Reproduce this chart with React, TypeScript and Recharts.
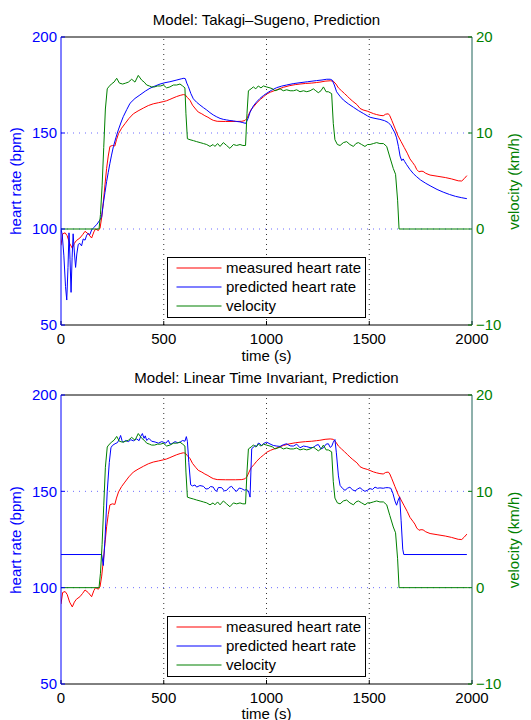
import React from 'react';
import { LineChart, Line, XAxis, YAxis, ReferenceLine, Legend } from 'recharts';

const FONT = '"Liberation Sans", Arial, Helvetica, sans-serif';

const timeTicks = [0, 500, 1000, 1500, 2000];
const hrTicks = [50, 100, 150, 200];
const velTicks = [-10, 0, 10, 20];
const timeGrid = [500, 1000, 1500];
const hrGrid = [100, 150];

const seriesNames = ['measured heart rate', 'predicted heart rate', 'velocity'];
const panelTitles = ['Model: Takagi\u2013Sugeno, Prediction', 'Model: Linear Time Invariant, Prediction'];

// [time (s), velocity (km/h)]
const velocity: [number, number][] = [
  [0,0],[185,0],[192,1.5],[200,4.5],[208,8.5],[216,12.5],[225,14.6],[232,14.8],[245,15.1],[258,15.3],[271,15.7],[284,15.2],[300,15.1],[315,15.2],[328,15.3],[344,15.6],[360,15.3],[376,16.0],[393,15.5],[405,15.3],[417,15.0],[430,14.9],[441,14.8],[455,14.8],[470,14.9],[485,14.9],[498,15.0],[514,14.7],[530,14.8],[547,15.0],[563,15.0],[579,15.1],[592,14.9],[603,14.7],[608,12.0],[615,9.4],[628,9.3],[645,9.2],[660,9.1],[677,9.0],[693,8.9],[709,8.8],[725,8.6],[740,8.8],[749,8.6],[762,8.9],[774,8.6],[790,9.0],[806,8.7],[822,8.4],[839,8.8],[855,8.7],[871,8.8],[885,8.7],[898,8.7],[905,12.0],[912,14.4],[925,14.6],[936,14.8],[948,14.6],[960,14.9],[973,14.7],[985,14.9],[1000,14.8],[1017,14.7],[1030,14.6],[1041,14.4],[1055,14.5],[1066,14.6],[1082,14.4],[1098,14.5],[1115,14.4],[1131,14.4],[1147,14.5],[1163,14.3],[1180,14.4],[1196,14.3],[1212,14.4],[1228,14.6],[1240,14.4],[1252,14.2],[1265,14.4],[1277,14.8],[1290,14.3],[1301,14.3],[1317,14.1],[1325,11.0],[1333,9.3],[1345,8.8],[1358,8.7],[1374,9.0],[1390,9.1],[1406,8.8],[1423,8.6],[1435,8.9],[1447,9.0],[1463,8.8],[1479,8.6],[1492,8.8],[1504,8.8],[1520,8.9],[1536,9.0],[1552,8.9],[1569,8.9],[1585,8.6],[1600,7.5],[1617,6.3],[1628,5.7],[1638,3.0],[1645,0],[1980,0]
];

// [time (s), measured heart rate (bpm)]
const measured: [number, number][] = [
  [0,91.5],[8,97.5],[20,98],[30,96.5],[42,92.5],[55,90],[65,92.5],[75,94],[92,95.3],[105,97],[117,98.8],[133,97.4],[149,95.3],[160,98.5],[168,100],[182,99.2],[190,100.5],[198,106],[206,114],[214,123],[222,131.6],[230,138],[238,143],[250,143.5],[262,143.2],[270,146.5],[280,149.7],[295,152.5],[311,154.8],[330,157.5],[352,160],[375,161.5],[401,163],[425,164.3],[449,165.2],[475,165.8],[500,166.4],[514,166.8],[530,167.5],[545,168.2],[563,169],[580,169.6],[595,170],[605,169.8],[615,168.5],[628,167],[640,164.5],[655,162.5],[668,160.9],[685,160],[700,159],[715,158.2],[730,157.2],[741,156.6],[760,156.1],[800,156],[850,156],[880,156.1],[895,156.5],[905,157.6],[915,160],[925,162.2],[940,164],[952,165.6],[970,167.5],[985,168.8],[1001,170.3],[1020,171.3],[1049,172.5],[1082,173.8],[1110,174.6],[1140,175.2],[1163,175.5],[1190,175.8],[1220,176],[1244,176.3],[1260,176.5],[1285,177],[1310,177.2],[1325,177],[1338,175.5],[1350,173.5],[1365,172],[1380,170.5],[1395,169],[1406,167.8],[1420,166.5],[1440,164.8],[1455,162.8],[1470,162],[1490,161.4],[1504,160.8],[1520,160.1],[1536,159.6],[1552,159.2],[1568,159],[1580,159.8],[1593,160],[1600,159],[1610,156.5],[1625,152.5],[1640,148.5],[1655,145.5],[1670,142.5],[1685,139.5],[1698,136.5],[1712,134.5],[1722,133],[1731,131],[1742,129.8],[1752,130.1],[1762,130],[1775,129],[1796,128.1],[1830,127.5],[1870,126.8],[1900,126.1],[1933,125.1],[1950,125],[1962,126.2],[1975,127.8]
];

// [time (s), Takagi-Sugeno predicted heart rate (bpm)]
const predictedTS: [number, number][] = [
  [0,100],[6,97],[14,86],[22,70],[28,63],[34,80],[39,98],[44,84],[49,67],[54,85],[59,97.5],[65,88],[71,80],[77,87],[84,92],[92,92.5],[100,91.2],[108,94.8],[117,94.2],[125,96.8],[133,97.8],[140,97],[149,99.5],[160,100.8],[175,102.5],[190,104.8],[198,106.5],[206,113.4],[214,119],[222,124.7],[230,129.5],[238,134.2],[246,138.5],[255,142.9],[267,147.5],[279,151.6],[291,155.2],[303,158.5],[320,162.2],[336,165.5],[360,168],[384,169.8],[410,171.8],[433,173.3],[458,174.5],[482,175.5],[506,176.2],[530,176.7],[560,177.5],[585,178.2],[598,178.5],[605,178.3],[612,176],[620,174.1],[632,170.5],[644,167.8],[660,166],[676,164.6],[693,163.2],[709,162],[725,160.6],[741,159.4],[758,158.4],[774,157.6],[790,157.1],[806,156.8],[822,156.5],[839,156.3],[855,156],[871,155.8],[885,155.4],[899,155],[910,157.5],[920,160.8],[936,164.1],[952,166.2],[968,168],[985,169.5],[1001,170.7],[1025,172.3],[1049,173.6],[1073,174.4],[1098,175],[1130,175.7],[1163,176.2],[1200,176.7],[1244,177.3],[1270,177.6],[1293,178],[1310,178],[1320,177.5],[1330,175],[1341,171.5],[1357,169.2],[1374,167.2],[1398,165.2],[1423,163.4],[1447,161.7],[1471,160.2],[1490,159],[1504,158.2],[1528,157.6],[1552,157.1],[1575,156.4],[1593,155.4],[1605,154],[1617,151.6],[1625,150],[1633,147.5],[1642,143],[1650,138],[1658,135.6],[1665,136.5],[1672,135.2],[1682,133.5],[1698,131],[1715,128.8],[1731,127.2],[1750,125.5],[1775,123.8],[1800,122.3],[1830,120.6],[1860,119.2],[1890,118],[1920,117],[1950,116.3],[1975,115.8]
];

// [time (s), LTI predicted heart rate (bpm)]
const predictedLTI: [number, number][] = [
  [0,117.2],[198,117.2],[206,111.5],[214,125],[225,150],[235,165],[243,172.6],[250,173.8],[263,174.7],[275,175.3],[283,177],[290,179],[297,176.3],[303,175.5],[315,176.4],[328,175.8],[340,176.8],[352,176.2],[368,177.2],[380,176.3],[388,178.5],[396,180],[404,177.5],[410,178.8],[417,176.4],[428,177.5],[441,176],[458,175.6],[474,175],[490,175.8],[498,175.5],[510,175],[522,176.5],[530,174.6],[539,174.7],[555,175.8],[568,175.2],[579,175.5],[592,176.4],[603,176],[610,178.4],[615,176],[622,165],[631,153.4],[640,152.8],[652,153.3],[660,152.2],[676,153],[693,152.6],[705,151.2],[717,151.4],[728,152.5],[741,152.2],[750,150.5],[757,150],[766,152],[782,151.9],[795,150.2],[806,150.5],[818,152],[830,152.6],[842,151],[855,150],[867,151.7],[879,151.4],[892,150.6],[903,150.9],[912,150.2],[920,147],[924,160],[928,172],[936,173],[944,173.8],[952,173.2],[960,175],[968,174.7],[977,173.6],[985,174.8],[1001,175.5],[1017,174.6],[1033,173.8],[1050,173.5],[1066,173.3],[1082,174.2],[1098,174.7],[1115,173.6],[1131,173.5],[1147,174.5],[1163,172.6],[1180,173.5],[1196,173.2],[1212,172.7],[1228,172.7],[1240,173.8],[1252,174.3],[1265,172],[1277,172.6],[1290,174.5],[1301,174.7],[1310,172.8],[1317,173.3],[1325,175.5],[1333,176.9],[1340,170],[1350,158],[1358,153.1],[1370,151.5],[1382,150.5],[1394,151.6],[1406,152.2],[1418,150.8],[1431,150.2],[1443,151.2],[1455,151.9],[1467,150.8],[1479,150],[1492,150.6],[1504,151.4],[1516,151],[1528,152.2],[1540,151.6],[1552,151.8],[1568,151.6],[1580,151.9],[1593,151.9],[1605,151.6],[1615,149],[1625,145],[1633,142.8],[1641,145.5],[1648,147.1],[1655,135],[1663,120],[1668,117.2],[1975,117.2]
];

const toRows = (pairs: [number, number][]) => pairs.map(([t, v]) => ({ t, v }));

const tickStyle = (fill: string) => ({ fill, fontSize: 15, fontFamily: FONT });
const fmtVel = (v: number) => (v < 0 ? '\u2212' + Math.abs(v) : String(v));

const renderLegend = (props: any) => {
  const items = props.payload || [];
  return (
    <div style={{ width: 199, height: 61, boxSizing: 'border-box', border: '1.5px solid #000', background: '#fff', position: 'relative', fontFamily: FONT, fontSize: 15, color: '#000' }}>
      {items.map((it: any, i: number) => (
        <div key={i} style={{ position: 'absolute', left: 0, top: 1 + i * 19, height: 18, display: 'flex', alignItems: 'center', whiteSpace: 'nowrap' }}>
          <svg width={58} height={18} style={{ display: 'block' }}>
            <line x1={8.5} x2={53.5} y1={9} y2={9} stroke={it.color} strokeWidth={1.2} />
          </svg>
          <span style={{ lineHeight: '18px' }}>{it.value}</span>
        </div>
      ))}
    </div>
  );
};

function Panel({ predicted, marginTop, xAxisHeight }: { predicted: [number, number][]; marginTop: number; xAxisHeight: number }) {
  return (
    <LineChart width={531} height={360} margin={{ top: marginTop, right: 0, bottom: 0, left: 0 }}>
      <XAxis dataKey="t" type="number" domain={[0, 2000]} ticks={timeTicks} interval={0} allowDataOverflow
        height={xAxisHeight} stroke="#000" tickSize={-4} tickMargin={12} tick={tickStyle('#000')} />
      <YAxis yAxisId="hr" orientation="left" domain={[50, 200]} ticks={hrTicks} interval={0} allowDataOverflow
        width={61} stroke="#0000ff" tickSize={-4} tickMargin={8} tick={tickStyle('#0000ff')} />
      <YAxis yAxisId="vel" orientation="right" domain={[-10, 20]} ticks={velTicks} interval={0} allowDataOverflow
        width={59} stroke="#1d6258" tickLine={{ stroke: '#008000' }} tickSize={-4} tickMargin={8} tick={tickStyle('#008000')} tickFormatter={fmtVel} />
      {hrGrid.map((y) => (
        <ReferenceLine key={'h' + y} yAxisId="hr" y={y} stroke="#6b6bff" strokeDasharray="1 5" />
      ))}
      {timeGrid.map((x) => (
        <ReferenceLine key={'v' + x} yAxisId="hr" x={x} stroke="#333" strokeDasharray="1 4" />
      ))}
      <ReferenceLine yAxisId="hr" y={200} stroke="#000" />
      <Line yAxisId="hr" data={toRows(measured)} dataKey="v" name={seriesNames[0]} type="linear" stroke="#ff0000" strokeWidth={1} dot={false} isAnimationActive={false} />
      <Line yAxisId="hr" data={toRows(predicted)} dataKey="v" name={seriesNames[1]} type="linear" stroke="#0000ff" strokeWidth={1} dot={false} isAnimationActive={false} />
      <Line yAxisId="vel" data={toRows(velocity)} dataKey="v" name={seriesNames[2]} type="linear" stroke="#008000" strokeWidth={1} dot={false} isAnimationActive={false} />
      <Legend layout="vertical" align="center" verticalAlign="middle" content={renderLegend}
        wrapperStyle={{ left: 167, top: marginTop === 37 ? 257 : 256, width: 199, height: 61 }} />
    </LineChart>
  );
}

export default function App() {
  return (
    <div style={{ position: 'absolute', left: 0, top: 0, width: 531, height: 720, background: '#fff', overflow: 'hidden' }}>
      <div style={{ position: 'absolute', left: 0, top: 0 }}>
        <Panel predicted={predictedTS} marginTop={37} xAxisHeight={35} />
      </div>
      <div style={{ position: 'absolute', left: 0, top: 360 }}>
        <Panel predicted={predictedLTI} marginTop={35} xAxisHeight={36} />
      </div>
      <svg width={531} height={720} style={{ position: 'absolute', left: 0, top: 0, pointerEvents: 'none' }} fontFamily={FONT} fontSize={15}>
        <text x={266.5} y={24.5} textAnchor="middle" fill="#000">{panelTitles[0]}</text>
        <text x={266.5} y={382.5} textAnchor="middle" fill="#000">{panelTitles[1]}</text>
        <text x={266.5} y={361} textAnchor="middle" fill="#000">time (s)</text>
        <text x={266.5} y={719} textAnchor="middle" fill="#000">time (s)</text>
        <text transform="translate(21,181) rotate(-90)" textAnchor="middle" fill="#0000ff">heart rate (bpm)</text>
        <text transform="translate(519,181.5) rotate(-90)" textAnchor="middle" fill="#008000">velocity (km/h)</text>
        <text transform="translate(21,540) rotate(-90)" textAnchor="middle" fill="#0000ff">heart rate (bpm)</text>
        <text transform="translate(519,540) rotate(-90)" textAnchor="middle" fill="#008000">velocity (km/h)</text>
      </svg>
    </div>
  );
}
